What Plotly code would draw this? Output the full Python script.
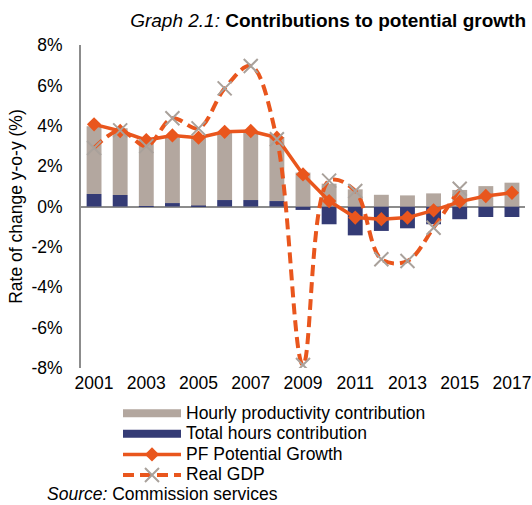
import plotly.graph_objects as go

years = list(range(2001, 2018))
hourly_productivity = [3.36, 3.30, 3.24, 3.23, 3.34, 3.33, 3.33, 3.17, 1.68, 1.13, 0.85, 0.58, 0.55, 0.65, 0.82, 1.01, 1.18]
total_hours = [0.62, 0.57, 0.02, 0.17, 0.05, 0.32, 0.32, 0.27, -0.17, -0.88, -1.43, -1.21, -1.08, -0.88, -0.63, -0.52, -0.52]
pf_potential = [4.07, 3.74, 3.29, 3.52, 3.41, 3.70, 3.74, 3.41, 1.59, 0.27, -0.55, -0.63, -0.55, -0.19, 0.24, 0.52, 0.68]
gdp_years = list(range(2001, 2016))
real_gdp = [2.90, 3.77, 2.99, 4.37, 3.87, 5.85, 6.96, 3.33, -7.85, 1.28, 0.77, -2.61, -2.70, -1.05, 0.88]
y_tick_vals = [-8, -6, -4, -2, 0, 2, 4, 6, 8]
y_tick_text = ["-8%", "-6%", "-4%", "-2%", "0%", "2%", "4%", "6%", "8%"]

FONT = "Liberation Sans, Arial, sans-serif"
GRAY = "#B3A79F"
NAVY = "#343B75"
ORANGE = "#E9561D"
XGRAY = "#A9A19B"


def leg(name):
    return '<span style="font-size:17.5px">' + name + '</span>'


fig = go.Figure()
# stacked bars (legend shown through wide legend keys below)
fig.add_trace(go.Bar(x=years, y=total_hours, name="Total hours contribution", showlegend=False,
                     marker=dict(color=NAVY, line_width=0)))
fig.add_trace(go.Bar(x=years, y=hourly_productivity, name="Hourly productivity contribution", showlegend=False,
                     marker=dict(color=GRAY, line_width=0)))
# legend keys for the bar series (no data drawn)
fig.add_trace(go.Scatter(x=[None], y=[None], mode="lines", name=leg("Hourly productivity contribution"),
                         line=dict(color=GRAY, width=8), legendrank=1, hoverinfo="skip"))
fig.add_trace(go.Scatter(x=[None], y=[None], mode="lines", name=leg("Total hours contribution"),
                         line=dict(color=NAVY, width=8), legendrank=2, hoverinfo="skip"))
fig.add_trace(go.Scatter(x=years, y=pf_potential, name=leg("PF Potential Growth"), mode="lines+markers",
                         line=dict(color=ORANGE, width=3.5),
                         marker=dict(symbol="diamond", size=11, color=ORANGE), legendrank=3))
fig.add_trace(go.Scatter(x=gdp_years, y=real_gdp, name=leg("Real GDP"), mode="lines+markers",
                         line=dict(color=ORANGE, width=4, dash="11px,6px", shape="spline", smoothing=1),
                         marker=dict(symbol="x-thin", size=14, color=XGRAY, line=dict(color=XGRAY, width=2)),
                         legendrank=4))

fig.update_layout(
    width=532, height=505,
    margin=dict(l=81, r=7, t=45, b=137, autoexpand=False),
    paper_bgcolor="white", plot_bgcolor="white",
    font=dict(family=FONT, size=17, color="#000000"),
    barmode="relative", bargap=0.43,
    title=dict(text="<i>Graph 2.1:</i> <b>Contributions to potential growth</b>",
               x=526/532, xanchor="right", y=1-20/505, yanchor="middle",
               font=dict(family=FONT, size=19, color="#000000")),
    xaxis=dict(range=[2000.5, 2017.5], tick0=2001, dtick=2, showgrid=False, zeroline=False,
               showline=False, ticks="", tickfont=dict(size=17.5), ticklabelstandoff=2),
    yaxis=dict(range=[-8, 8], tickvals=y_tick_vals, ticktext=y_tick_text, showgrid=False,
               zeroline=True, zerolinecolor="#8C8C8C", zerolinewidth=2,
               showline=True, linecolor="#8C8C8C", linewidth=2, ticks="",
               ticklabelstandoff=13, tickfont=dict(size=17.5),
               title=dict(text="Rate of change y-o-y (%)", font=dict(size=17.5), standoff=4)),
    legend=dict(orientation="v", x=(118-81)/444, xanchor="left", y=-(398-368)/323, yanchor="top",
                bgcolor="rgba(0,0,0,0)", font=dict(size=13.5), tracegroupgap=0, itemwidth=58),
    annotations=[dict(text="<i>Source:</i> Commission services", xref="paper", yref="paper",
                      x=(45-81)/444, xanchor="left", y=-(494-368)/323, yanchor="middle",
                      showarrow=False, font=dict(size=17.5))],
)

fig.write_html("out.html", config={"displayModeBar": False},
               post_script="document.body.style.margin='0';")
